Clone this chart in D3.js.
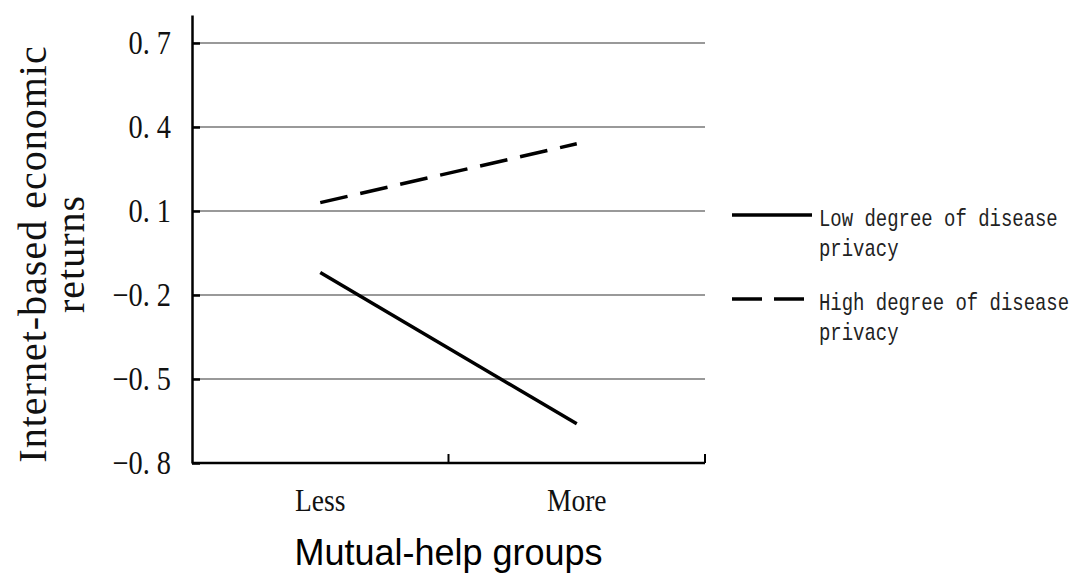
<!DOCTYPE html>
<html>
<head>
<meta charset="utf-8">
<script src="https://cdn.jsdelivr.net/npm/d3@7"></script>
<style>
  body { margin: 0; background: #fff; }
</style>
</head>
<body>
<div id="chart"></div>
<script>
const categories = ["Less", "More"];
const lowPrivacy = [-0.12, -0.66];
const highPrivacy = [0.13, 0.34];
const yTicks = [-0.8, -0.5, -0.2, 0.1, 0.4, 0.7];
const yTickLabels = ["\u22120. 8", "\u22120. 5", "\u22120. 2", "0. 1", "0. 4", "0. 7"];
const seriesNames = ["Low degree of disease|privacy", "High degree of disease|privacy"];

(function chart(){
let width = 1075,
    height = 574,
    margin = ({top: 15, right: 370, bottom: 111, left: 192});

// narrow glyphs like the original CJK serif font
const squeeze = 0.86;

const svg = d3.select("#chart")
    .append("svg")
    .attr("width", width)
    .attr("height", height);

let x = d3.scaleBand()
    .domain(categories)
    .range([margin.left, width - margin.right]);

let y = d3.scaleLinear()
    .domain([-0.8, 0.8])
    .range([height - margin.bottom, margin.top]);

// gridlines
svg.append("g")
    .selectAll("line")
    .data(yTicks)
    .join("line")
    .attr("x1", margin.left)
    .attr("x2", width - margin.right)
    .attr("y1", d => y(d))
    .attr("y2", d => y(d))
    .attr("stroke", "#999")
    .attr("stroke-width", 2);

// y axis
const yAxis = g => g
    .attr("transform", `translate(${margin.left},0)`)
    .call(d3.axisLeft(y)
        .tickValues(yTicks)
        .tickSize(-8)
        .tickSizeOuter(0)
        .tickPadding(21)
        .tickFormat((d, i) => yTickLabels[i]))
    .call(g => g.select(".domain").attr("stroke-width", 2.5))
    .call(g => g.selectAll(".tick line").attr("stroke-width", 2.5))
    .call(g => g.selectAll("text")
        .attr("x", -21 / squeeze)
        .attr("transform", `scale(${squeeze},1)`)
        .attr("font-family", "Liberation Serif")
        .attr("font-size", 33)
        .attr("fill", "#111"));

svg.append("g").call(yAxis);

// x axis: baseline, ticks at band edges, labels at centres
const xg = svg.append("g");
xg.append("line")
    .attr("x1", margin.left)
    .attr("x2", width - margin.right)
    .attr("y1", y(-0.8))
    .attr("y2", y(-0.8))
    .attr("stroke", "#000")
    .attr("stroke-width", 2.5);

xg.selectAll(".edge")
    .data(categories)
    .join("line")
    .attr("class", "edge")
    .attr("x1", d => x(d) + x.bandwidth())
    .attr("x2", d => x(d) + x.bandwidth())
    .attr("y1", y(-0.8))
    .attr("y2", y(-0.8) - 9)
    .attr("stroke", "#000")
    .attr("stroke-width", 2);

xg.selectAll(".cat")
    .data(categories)
    .join("text")
    .attr("class", "cat")
    .attr("transform", d => `translate(${x(d) + x.bandwidth() / 2},511) scale(${squeeze},1)`)
    .attr("text-anchor", "middle")
    .attr("font-family", "Liberation Serif")
    .attr("font-size", 32)
    .attr("fill", "#111")
    .text(d => d);

// lines
const line = d3.line()
    .x((d, i) => x(categories[i]) + x.bandwidth() / 2)
    .y(d => y(d));

svg.append("path")
    .datum(lowPrivacy)
    .attr("d", line)
    .attr("fill", "none")
    .attr("stroke", "#000")
    .attr("stroke-width", 3.5);

svg.append("path")
    .datum(highPrivacy)
    .attr("d", line)
    .attr("fill", "none")
    .attr("stroke", "#000")
    .attr("stroke-width", 3.5)
    .attr("stroke-dasharray", "28,13");

// legend
const legend = svg.append("g")
    .selectAll("g")
    .data(seriesNames)
    .join("g")
    .attr("transform", (d, i) => `translate(732,${215 + i * 84})`);

legend.append("line")
    .attr("x1", 0)
    .attr("x2", 80)
    .attr("stroke", "#000")
    .attr("stroke-width", 3.5)
    .attr("stroke-dasharray", (d, i) => i ? "30,12" : null);

legend.append("text")
    .attr("transform", "translate(87,11) scale(0.79,1)")
    .attr("font-family", "Liberation Mono")
    .attr("font-size", 24)
    .attr("fill", "#222")
    .selectAll("tspan")
    .data(d => d.split("|"))
    .join("tspan")
    .attr("x", 0)
    .attr("dy", (d, i) => i ? 30 : 0)
    .text(d => d);

// axis titles
svg.append("text")
    .attr("transform", "translate(46,254) rotate(-90)")
    .attr("text-anchor", "middle")
    .attr("font-family", "Liberation Serif")
    .attr("font-size", 40)
    .attr("letter-spacing", 1)
    .attr("fill", "#111")
    .selectAll("tspan")
    .data(["Internet-based economic", "returns"])
    .join("tspan")
    .attr("x", 0)
    .attr("dy", (d, i) => i ? 38 : 0)
    .text(d => d);

svg.append("text")
    .attr("x", x("Less") + x.bandwidth())
    .attr("y", 565)
    .attr("text-anchor", "middle")
    .attr("font-family", "Liberation Sans")
    .attr("font-size", 36)
    .attr("fill", "#000")
    .text("Mutual-help groups");
})();
</script>
</body>
</html>
